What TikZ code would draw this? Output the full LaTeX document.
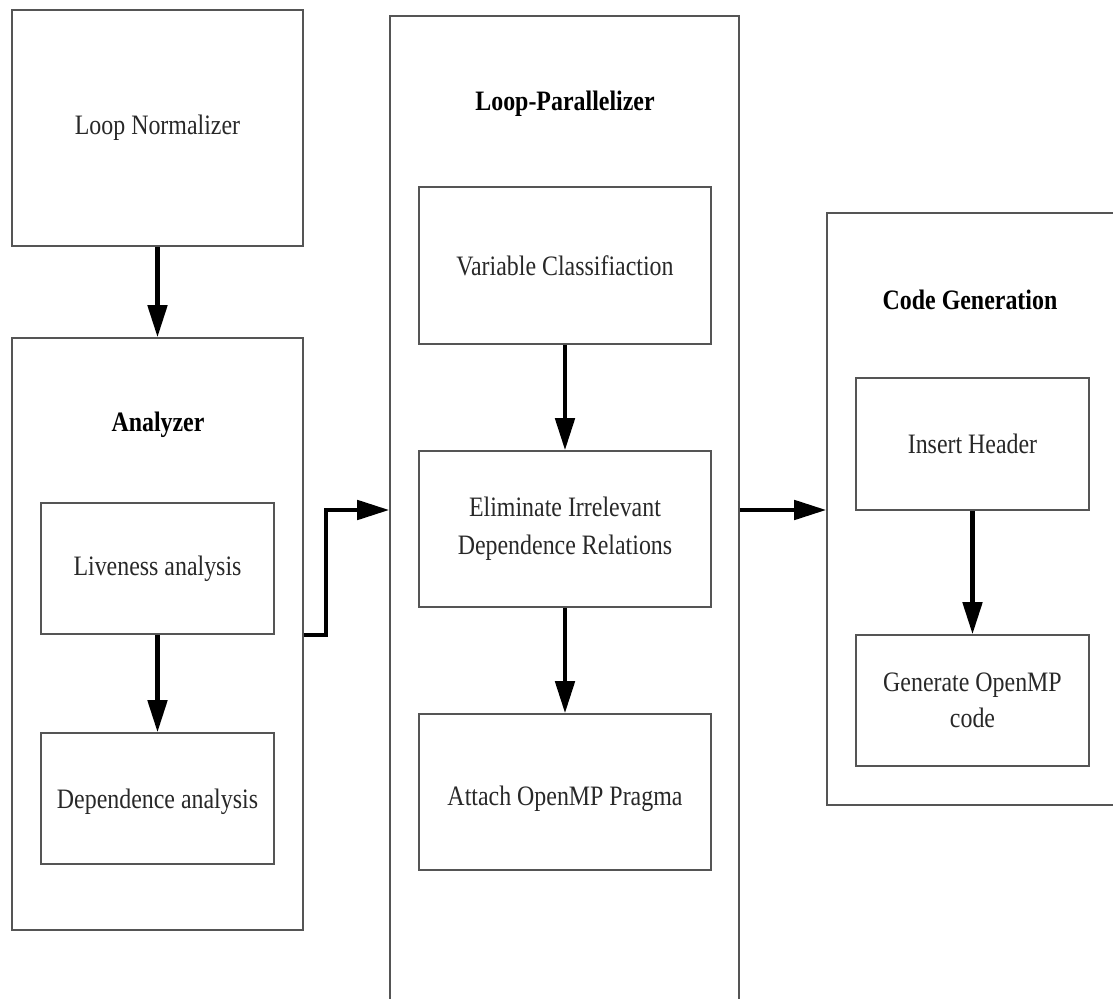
\documentclass[tikz,border=0pt]{standalone}
\usepackage{fontspec}
\setmainfont[FakeStretch=0.85]{Liberation Serif}
\usetikzlibrary{arrows.meta,fit,positioning}
\definecolor{BoxGray}{RGB}{85,85,85}
\definecolor{TextGray}{RGB}{40,40,40}

\begin{document}
\begin{tikzpicture}[x=0.025cm,y=-0.025cm,
  blk/.style={draw=BoxGray,line width=1.1pt,inner sep=0pt},
  txt/.style={align=center,text=TextGray,font=\fontsize{20}{27}\selectfont},
  ttl/.style={font=\bfseries\fontsize{20}{24}\selectfont,text=black},
  arr/.style={-{Triangle[length=8mm,width=4.8mm]},line width=3pt},
]
\fill[white] (0,0) rectangle (1113,999);
\useasboundingbox (0,0) rectangle (1113,999);
% outer groups
\node[blk,fit={(12,338) (303,930)}]   (ana) {};
\node[blk,fit={(390,16) (739,1030)}]  (lp)  {};
\node[blk,fit={(827,213) (1140,805)}] (cg)  {};
\node[ttl] (anattl) at (158,425) {Analyzer};
\node[ttl] (lpttl)  at (565,104) {Loop-Parallelizer};
\node[ttl] (cgttl)  at (970,300) {Code Generation};
% stages
\node[blk,fit={(12,10) (303,246)}]    (norm)   {};
\node[blk,fit={(41,503) (274,634)}]   (live)   {};
\node[blk,fit={(41,733) (274,864)}]   (dep)    {};
\node[blk,fit={(419,187) (711,344)}]  (vars)   {};
\node[blk,fit={(419,451) (711,607)}]  (elim)   {};
\node[blk,fit={(419,714) (711,870)}]  (attach) {};
\node[blk,fit={(856,378) (1089,510)}] (ins)    {};
\node[blk,fit={(856,635) (1089,766)}] (gen)    {};
\node[txt] (normtxt)   at (norm)   {Loop Normalizer};
\node[txt] (livetxt)   at (live)   {Liveness analysis};
\node[txt] (deptxt)    at ([yshift=-2]dep.center) {Dependence analysis};
\node[txt] (varstxt)   at (vars)   {Variable Classifiaction};
\node[txt] (elimtxt)   at (elim)   {Eliminate Irrelevant\\Dependence Relations};
\node[txt] (attachtxt) at ([yshift=-5]attach.center) {Attach OpenMP Pragma};
\node[txt] (instxt)    at (ins)    {Insert Header};
\node[txt,font=\fontsize{20}{26}\selectfont] (gentxt) at (gen) {Generate OpenMP\\code};
\coordinate (j) at (0,510);
% flow
\draw[arr] (norm) -- (ana);
\draw[arr] (live) -- (dep);
\draw[arr] (ana.east |- live.south) -- ++(22,0) |- (lp.west |- j);
\draw[arr] (vars) -- (elim);
\draw[arr] (elim) -- (attach);
\draw[arr] (lp.east |- j) -- (cg.west |- j);
\draw[arr] (ins) -- (gen);
\end{tikzpicture}
\end{document}
